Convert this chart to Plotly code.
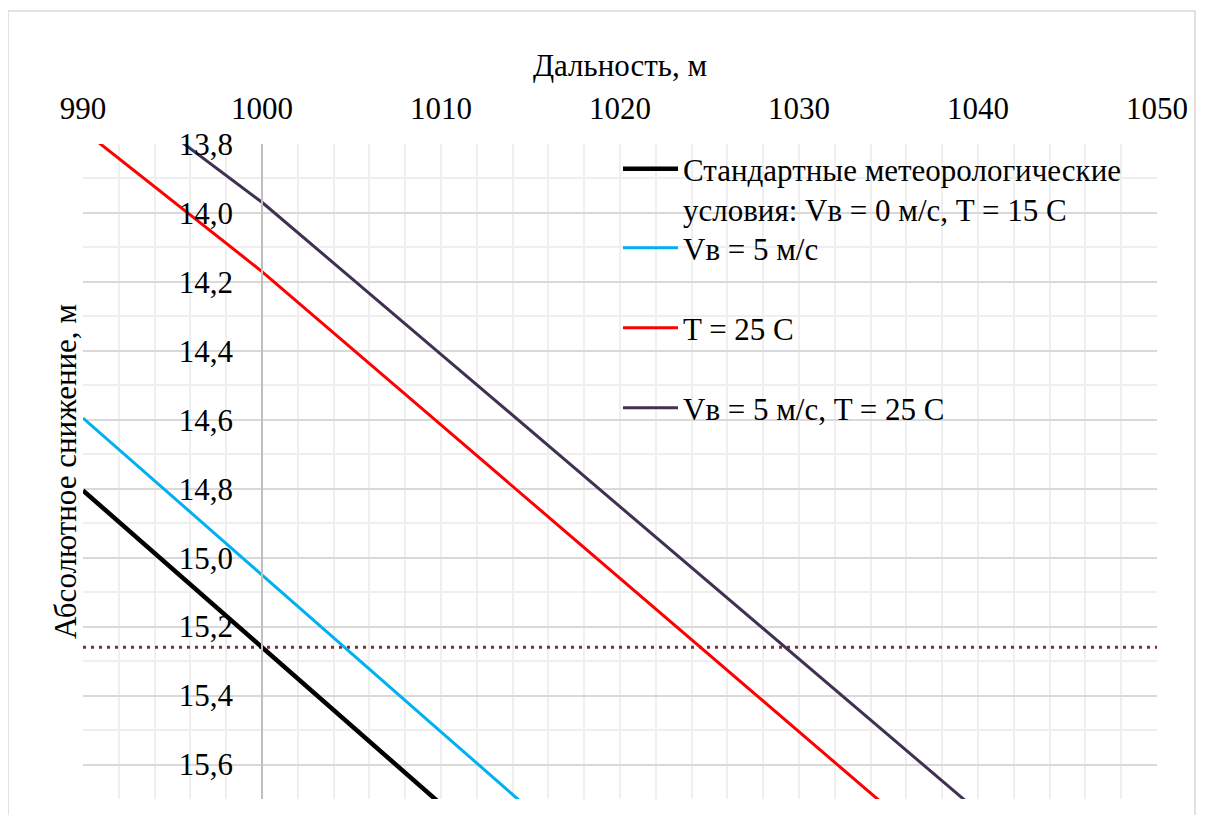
import plotly.graph_objects as go

# ---- data ----
x_standard = [990, 1000, 1010]
y_standard = [14.805, 15.26, 15.715]

x_wind = [990, 1000, 1010, 1020]
y_wind = [14.595, 15.049, 15.505, 15.96]

x_temp = [990, 1000, 1010, 1020, 1030, 1040]
y_temp = [13.76, 14.17, 14.615, 15.06, 15.505, 15.95]

x_wind_temp = [990, 1000, 1010, 1020, 1030, 1040]
y_wind_temp = [13.58, 13.969, 14.41, 14.852, 15.294, 15.736]

reference_x = [990, 1050]
reference_drop = [15.26, 15.26]

names = [
    "Стандартные метеорологические<br>условия: Vв = 0 м/с, T = 15 C",
    "Vв = 5 м/с",
    "T = 25 C",
    "Vв = 5 м/с, T = 25 C",
]
colors = ["#000000", "#00B0F0", "#FF0000", "#403152"]
widths = [4.5, 3, 3, 3]

FONT = "Liberation Serif, Times New Roman, serif"

# page has an 8px body margin; figure is placed at (8, 8)
OFF = 8
W, H = 1190, 807
L, R, T, B = 83 - OFF, W - (1157 - OFF), 144 - OFF, H - (799 - OFF)
pw, ph = W - L - R, H - T - B


def px_to_paper_x(px):
    return (px - OFF - L) / pw


def px_to_paper_y(py):
    return 1 - (py - OFF - T) / ph


legend_ids = ["legend", "legend2", "legend3", "legend4"]
legend_tops = [142, 221, 301, 381]  # screen px of each legend entry's top

fig = go.Figure()
fig.add_trace(go.Scatter(x=reference_x, y=reference_drop, mode="lines",
                         line=dict(color="#7F2F2F", width=3, dash="3px,5px"),
                         showlegend=False, hoverinfo="skip"))
series = [(x_standard, y_standard), (x_wind, y_wind), (x_temp, y_temp), (x_wind_temp, y_wind_temp)]
for (xs, ys), n, c, w, lg in zip(series, names, colors, widths, legend_ids):
    fig.add_trace(go.Scatter(x=xs, y=ys, mode="lines", name=n, legend=lg,
                             line=dict(color=c, width=w)))

legend_layout = {}
for lg, top in zip(legend_ids, legend_tops):
    legend_layout[lg] = dict(
        x=px_to_paper_x(618), y=px_to_paper_y(top), xanchor="left", yanchor="top",
        bgcolor="rgba(0,0,0,0)", font=dict(family=FONT, size=31, color="black"),
        valign="top", itemwidth=55)

fig.update_layout(
    width=W, height=H,
    margin=dict(l=L, r=R, t=T, b=B, autoexpand=False),
    paper_bgcolor="white", plot_bgcolor="white",
    separators=", ",
    font=dict(family=FONT, size=31, color="black"),
    showlegend=True,
    **legend_layout,
    xaxis=dict(side="top", range=[990, 1050], dtick=10, tick0=990,
               showgrid=True, gridcolor="#efefef", gridwidth=1.5,
               minor=dict(dtick=2, showgrid=True, gridcolor="#efefef", gridwidth=1.5),
               zeroline=False, showline=False, ticks="", ticklabelstandoff=18,
               title=dict(text="Дальность, м", standoff=4,
                          font=dict(family=FONT, size=31, color="black"))),
    yaxis=dict(range=[15.7, 13.8], dtick=0.2, tick0=13.8, tickformat=".1f",
               anchor="free", position=1 / 6, side="left",
               showline=True, linecolor="#bfbfbf", linewidth=1.5,
               showgrid=True, gridcolor="#d9d9d9", gridwidth=1.5,
               minor=dict(dtick=0.1, showgrid=True, gridcolor="#efefef", gridwidth=1.5),
               zeroline=False, ticks="", ticklabelstandoff=22,
               title=dict(text="Абсолютное снижение, м", standoff=92,
                          font=dict(family=FONT, size=31, color="black"))),
    shapes=[dict(type="rect", xref="paper", yref="paper",
                 x0=(0 - L) / pw, x1=(W - 3 - L) / pw,
                 y0=-(B + 4) / ph, y1=1 + (T - 3) / ph,
                 line=dict(color="#d9d9d9", width=1.5), fillcolor="rgba(0,0,0,0)",
                 layer="below")],
)

fig.write_html("out.html")
